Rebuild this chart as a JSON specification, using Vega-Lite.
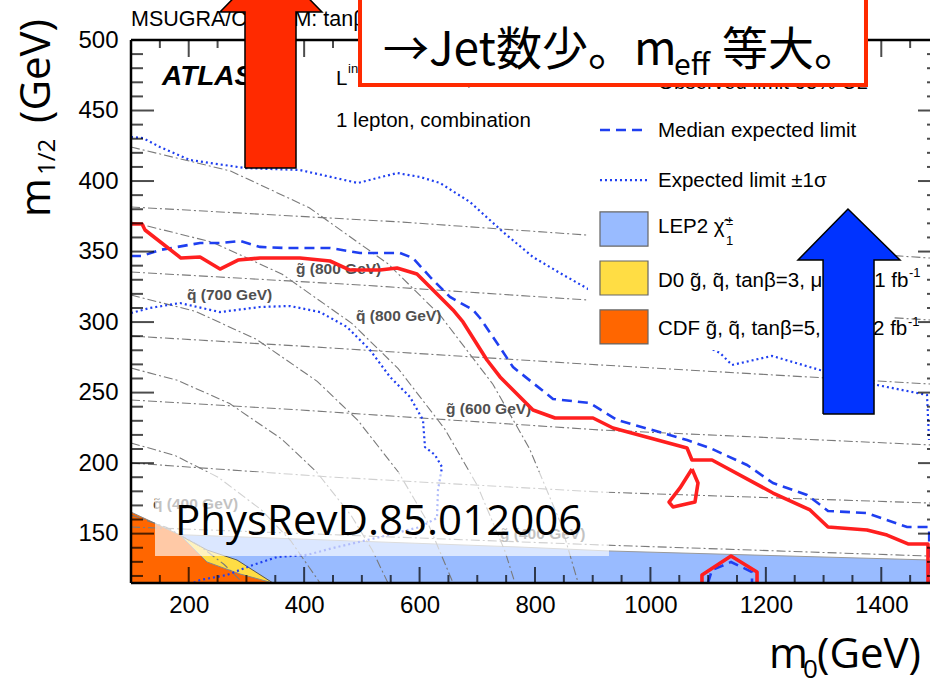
{
  "$schema": "https://vega.github.io/schema/vega-lite/v6.json",
  "width": 799,
  "height": 543,
  "autosize": {"type": "none"},
  "padding": {"left": 131, "top": 40, "right": 0, "bottom": 100},
  "background": "white",
  "config": {
    "view": {"stroke": null},
    "axis": {"ticks": false, "domain": false, "grid": false, "labelFont": "Liberation Sans", "labelFontSize": 24, "labelColor": "#000000", "labelOverlap": false, "labelFlush": false}
  },
  "datasets": {
    "lep": [{"m0": 100, "m12": 150.5}, {"m0": 774.0, "m12": 140.5}, {"m0": 928.2, "m12": 137.7}, {"m0": 1484.4, "m12": 131.3}],
    "cdf": [{"m0": 100, "m12": 165.3}, {"m0": 184.9, "m12": 149.0}, {"m0": 231.7, "m12": 129.9}, {"m0": 288.9, "m12": 121.4}, {"m0": 346.0, "m12": 115}],
    "d0": [{"m0": 190.1, "m12": 147.6, "lo": 147.6}, {"m0": 231.7, "m12": 138.4, "lo": 129.9}, {"m0": 283.7, "m12": 131.3, "lo": 121.5}, {"m0": 346.0, "m12": 115, "lo": 115}],
    "iso": [
      {"name": "g900", "m0": 100, "m12": 381.6}, {"name": "g900", "m0": 566.1, "m12": 371.0}, {"name": "g900", "m0": 890.2, "m12": 361.7}, {"name": "g900", "m0": 1484.4, "m12": 345.4},
      {"name": "g800", "m0": 100, "m12": 335.5}, {"name": "g800", "m0": 496.8, "m12": 326.3}, {"name": "g800", "m0": 890.2, "m12": 315.7}, {"name": "g800", "m0": 1484.4, "m12": 301.5},
      {"name": "g700", "m0": 100, "m12": 290.1}, {"name": "g700", "m0": 392.8, "m12": 283.0}, {"name": "g700", "m0": 912.6, "m12": 269.6}, {"name": "g700", "m0": 1484.4, "m12": 256.1},
      {"name": "g600", "m0": 100, "m12": 244.8}, {"name": "g600", "m0": 392.8, "m12": 237.7}, {"name": "g600", "m0": 912.6, "m12": 223.5}, {"name": "g600", "m0": 1484.4, "m12": 212.9},
      {"name": "g500", "m0": 100, "m12": 200.1}, {"name": "g500", "m0": 444.8, "m12": 190.2}, {"name": "g500", "m0": 912.6, "m12": 179.5}, {"name": "g500", "m0": 1484.4, "m12": 171.7},
      {"name": "g400", "m0": 100, "m12": 154.7}, {"name": "g400", "m0": 912.6, "m12": 142.0}, {"name": "g400", "m0": 1484.4, "m12": 134.1},
      {"name": "q800", "m0": 100, "m12": 424.1}, {"name": "q800", "m0": 272.6, "m12": 407.1}, {"name": "q800", "m0": 408.8, "m12": 381.1}, {"name": "q800", "m0": 545.1, "m12": 341.4}, {"name": "q800", "m0": 635.9, "m12": 304.7}, {"name": "q800", "m0": 726.7, "m12": 256.1}, {"name": "q800", "m0": 790.3, "m12": 210.4}, {"name": "q800", "m0": 844.9, "m12": 156.9}, {"name": "q800", "m0": 874.8, "m12": 115},
      {"name": "q700", "m0": 100, "m12": 371.0}, {"name": "q700", "m0": 241.4, "m12": 356.6}, {"name": "q700", "m0": 362.0, "m12": 333.9}, {"name": "q700", "m0": 482.6, "m12": 299.1}, {"name": "q700", "m0": 563.0, "m12": 267.0}, {"name": "q700", "m0": 643.5, "m12": 224.3}, {"name": "q700", "m0": 699.8, "m12": 184.4}, {"name": "q700", "m0": 748.0, "m12": 137.5}, {"name": "q700", "m0": 765.3, "m12": 115},
      {"name": "q600", "m0": 100, "m12": 319.2}, {"name": "q600", "m0": 211.4, "m12": 307.6}, {"name": "q600", "m0": 316.9, "m12": 287.9}, {"name": "q600", "m0": 422.6, "m12": 258.0}, {"name": "q600", "m0": 493.1, "m12": 230.3}, {"name": "q600", "m0": 563.5, "m12": 193.5}, {"name": "q600", "m0": 612.9, "m12": 159.0}, {"name": "q600", "m0": 658.1, "m12": 115},
      {"name": "q500", "m0": 100, "m12": 267.4}, {"name": "q500", "m0": 180.7, "m12": 258.7}, {"name": "q500", "m0": 271.0, "m12": 242.2}, {"name": "q500", "m0": 361.3, "m12": 217.0}, {"name": "q500", "m0": 421.6, "m12": 193.7}, {"name": "q500", "m0": 481.7, "m12": 162.7}, {"name": "q500", "m0": 517.9, "m12": 138.4}, {"name": "q500", "m0": 545.3, "m12": 115},
      {"name": "q400", "m0": 100, "m12": 214.3}, {"name": "q400", "m0": 175.7, "m12": 205.5}, {"name": "q400", "m0": 251.1, "m12": 190.0}, {"name": "q400", "m0": 326.3, "m12": 166.7}, {"name": "q400", "m0": 376.5, "m12": 145.1}, {"name": "q400", "m0": 427.5, "m12": 115},
      {"name": "q300", "m0": 100, "m12": 163.2}, {"name": "q300", "m0": 161.0, "m12": 154.5}, {"name": "q300", "m0": 221.3, "m12": 140.7}, {"name": "q300", "m0": 261.5, "m12": 128.1}, {"name": "q300", "m0": 294.2, "m12": 115}
    ],
    "isoLabels": [
      {"m0": 385.9, "m12": 334.0, "t": "g\u0303 (800 GeV)"},
      {"m0": 197.0, "m12": 315.7, "t": "q\u0303 (700 GeV)"},
      {"m0": 489.9, "m12": 300.8, "t": "q\u0303 (800 GeV)"},
      {"m0": 645.8, "m12": 234.8, "t": "g\u0303 (600 GeV)"},
      {"m0": 138.1, "m12": 167.5, "t": "q\u0303 (400 GeV)"},
      {"m0": 739.4, "m12": 146.2, "t": "g\u0303 (400 GeV)"}
    ],
    "sig": [
      {"part": "up", "m0": 100, "m12": 431.2}, {"part": "up", "m0": 120.8, "m12": 430.5}, {"part": "up", "m0": 150.2, "m12": 424.1}, {"part": "up", "m0": 202.2, "m12": 414.9}, {"part": "up", "m0": 297.5, "m12": 409.2}, {"part": "up", "m0": 392.8, "m12": 407.8}, {"part": "up", "m0": 493.3, "m12": 398.6}, {"part": "up", "m0": 560.9, "m12": 405.7}, {"part": "up", "m0": 600.7, "m12": 402.9}, {"part": "up", "m0": 635.4, "m12": 398.6}, {"part": "up", "m0": 687.4, "m12": 385.1}, {"part": "up", "m0": 744.6, "m12": 363.9}, {"part": "up", "m0": 796.5, "m12": 346.1}, {"part": "up", "m0": 843.3, "m12": 334.8}, {"part": "up", "m0": 895.3, "m12": 322.7}, {"part": "up", "m0": 1120.5, "m12": 278.1}, {"part": "up", "m0": 1141.4, "m12": 269.6}, {"part": "up", "m0": 1210.7, "m12": 276.0}, {"part": "up", "m0": 1293.8, "m12": 266.0}, {"part": "up", "m0": 1392.6, "m12": 255.4}, {"part": "up", "m0": 1479.2, "m12": 248.3}, {"part": "up", "m0": 1482.7, "m12": 216.4},
      {"part": "dn", "m0": 100, "m12": 306.4}, {"part": "dn", "m0": 132.9, "m12": 310.0}, {"part": "dn", "m0": 184.9, "m12": 313.5}, {"part": "dn", "m0": 254.2, "m12": 307.1}, {"part": "dn", "m0": 323.5, "m12": 310.7}, {"part": "dn", "m0": 375.5, "m12": 311.4}, {"part": "dn", "m0": 427.5, "m12": 307.1}, {"part": "dn", "m0": 474.3, "m12": 296.5}, {"part": "dn", "m0": 514.1, "m12": 280.2}, {"part": "dn", "m0": 548.8, "m12": 261.1}, {"part": "dn", "m0": 583.4, "m12": 246.9}, {"part": "dn", "m0": 605.9, "m12": 230.6}, {"part": "dn", "m0": 609.4, "m12": 211.4}, {"part": "dn", "m0": 626.7, "m12": 205.8}, {"part": "dn", "m0": 638.9, "m12": 197.2}, {"part": "dn", "m0": 631.9, "m12": 181.0}, {"part": "dn", "m0": 630.2, "m12": 161.1}, {"part": "dn", "m0": 600.7, "m12": 154.7}, {"part": "dn", "m0": 531.4, "m12": 147.6}, {"part": "dn", "m0": 450.0, "m12": 139.8}, {"part": "dn", "m0": 404.9, "m12": 134.9}, {"part": "dn", "m0": 353.0, "m12": 133.4}, {"part": "dn", "m0": 311.4, "m12": 127.8}, {"part": "dn", "m0": 266.3, "m12": 120.7}, {"part": "dn", "m0": 219.6, "m12": 117.1}, {"part": "dn", "m0": 207.4, "m12": 115}
    ],
    "med": [
      {"part": "main", "m0": 100, "m12": 346.9}, {"part": "main", "m0": 119.1, "m12": 346.9}, {"part": "main", "m0": 150.2, "m12": 351.1}, {"part": "main", "m0": 219.6, "m12": 356.1}, {"part": "main", "m0": 254.2, "m12": 356.1}, {"part": "main", "m0": 288.9, "m12": 357.5}, {"part": "main", "m0": 323.5, "m12": 353.3}, {"part": "main", "m0": 370.3, "m12": 352.5}, {"part": "main", "m0": 444.8, "m12": 352.5}, {"part": "main", "m0": 496.8, "m12": 349.0}, {"part": "main", "m0": 566.1, "m12": 349.0}, {"part": "main", "m0": 588.6, "m12": 345.4}, {"part": "main", "m0": 618.1, "m12": 332.0}, {"part": "main", "m0": 652.7, "m12": 317.8}, {"part": "main", "m0": 692.6, "m12": 308.6}, {"part": "main", "m0": 704.7, "m12": 302.9}, {"part": "main", "m0": 734.2, "m12": 285.2}, {"part": "main", "m0": 761.9, "m12": 268.1}, {"part": "main", "m0": 831.2, "m12": 245.5}, {"part": "main", "m0": 895.3, "m12": 242.6}, {"part": "main", "m0": 900.5, "m12": 241.2}, {"part": "main", "m0": 942.1, "m12": 230.6}, {"part": "main", "m0": 1063.4, "m12": 216.4}, {"part": "main", "m0": 1103.2, "m12": 210.7}, {"part": "main", "m0": 1167.3, "m12": 198.7}, {"part": "main", "m0": 1212.4, "m12": 185.9}, {"part": "main", "m0": 1271.3, "m12": 177.4}, {"part": "main", "m0": 1299.1, "m12": 168.9}, {"part": "main", "m0": 1307.7, "m12": 166.1}, {"part": "main", "m0": 1375.2, "m12": 164.6}, {"part": "main", "m0": 1444.6, "m12": 154.7}, {"part": "main", "m0": 1483.0, "m12": 154.7}, {"part": "main", "m0": 1483.0, "m12": 115},
      {"part": "bump", "m0": 1099.7, "m12": 115}, {"part": "bump", "m0": 1106.7, "m12": 124.2}, {"part": "bump", "m0": 1139.6, "m12": 129.9}, {"part": "bump", "m0": 1176.0, "m12": 122.8}, {"part": "bump", "m0": 1176.0, "m12": 115}
    ],
    "obs": [
      {"part": "main", "m0": 100, "m12": 369.5}, {"part": "main", "m0": 119.1, "m12": 369.5}, {"part": "main", "m0": 124.3, "m12": 365.3}, {"part": "main", "m0": 186.6, "m12": 345.4}, {"part": "main", "m0": 219.6, "m12": 346.1}, {"part": "main", "m0": 254.2, "m12": 337.6}, {"part": "main", "m0": 285.4, "m12": 344.0}, {"part": "main", "m0": 323.5, "m12": 345.4}, {"part": "main", "m0": 392.8, "m12": 345.4}, {"part": "main", "m0": 444.8, "m12": 343.3}, {"part": "main", "m0": 479.4, "m12": 336.9}, {"part": "main", "m0": 531.4, "m12": 336.9}, {"part": "main", "m0": 560.9, "m12": 338.3}, {"part": "main", "m0": 595.5, "m12": 334.1}, {"part": "main", "m0": 618.1, "m12": 324.9}, {"part": "main", "m0": 657.9, "m12": 308.6}, {"part": "main", "m0": 675.2, "m12": 300.1}, {"part": "main", "m0": 716.8, "m12": 273.1}, {"part": "main", "m0": 739.4, "m12": 261.1}, {"part": "main", "m0": 774.0, "m12": 246.9}, {"part": "main", "m0": 796.5, "m12": 237.7}, {"part": "main", "m0": 834.7, "m12": 232.0}, {"part": "main", "m0": 900.5, "m12": 232.0}, {"part": "main", "m0": 935.1, "m12": 224.9}, {"part": "main", "m0": 1063.4, "m12": 210.7}, {"part": "main", "m0": 1072.0, "m12": 202.2}, {"part": "main", "m0": 1106.7, "m12": 202.2}, {"part": "main", "m0": 1212.4, "m12": 178.8}, {"part": "main", "m0": 1276.5, "m12": 166.8}, {"part": "main", "m0": 1307.7, "m12": 154.7}, {"part": "main", "m0": 1375.2, "m12": 152.6}, {"part": "main", "m0": 1409.9, "m12": 149.0}, {"part": "main", "m0": 1446.3, "m12": 142.7}, {"part": "main", "m0": 1480.9, "m12": 142.7}, {"part": "main", "m0": 1480.9, "m12": 115},
      {"part": "island", "m0": 1072.0, "m12": 195.8}, {"part": "island", "m0": 1082.4, "m12": 185.9}, {"part": "island", "m0": 1077.2, "m12": 172.4}, {"part": "island", "m0": 1039.1, "m12": 168.9}, {"part": "island", "m0": 1032.2, "m12": 172.4}, {"part": "island", "m0": 1051.2, "m12": 182.4}, {"part": "island", "m0": 1072.0, "m12": 195.8},
      {"part": "bump", "m0": 1089.3, "m12": 115}, {"part": "bump", "m0": 1089.3, "m12": 120.7}, {"part": "bump", "m0": 1139.6, "m12": 134.1}, {"part": "bump", "m0": 1184.7, "m12": 122.8}, {"part": "bump", "m0": 1184.7, "m12": 115}
    ],
    "veil": [{"m0": 141.6, "m0b": 928.2, "m12": 193.7, "m12b": 134.1}],
    "keyBox": [{"m0": 891.8, "m0b": 1420.3, "m12": 487.2, "m12b": 280.2}],
    "keyObs": [{"m0": 912.6, "m12": 470.9}, {"m0": 995.8, "m12": 470.9}],
    "keyMed": [{"m0": 912.6, "m12": 436.2}, {"m0": 995.8, "m12": 436.2}],
    "keySig": [{"m0": 912.6, "m12": 400.7}, {"m0": 995.8, "m12": 400.7}],
    "swatches": [
      {"m0": 912.6, "m0b": 995.8, "m12": 378.1, "m12b": 353.9, "k": "LEP2"},
      {"m0": 912.6, "m0b": 995.8, "m12": 343.3, "m12b": 319.2, "k": "D0"},
      {"m0": 912.6, "m0b": 995.8, "m12": 308.6, "m12b": 284.5, "k": "CDF"}
    ],
    "txt20": [
      {"m0": 1013.1, "m12": 465.3, "t": "Observed limit 95% CL"},
      {"m0": 1013.1, "m12": 431.2, "t": "Median expected limit"},
      {"m0": 1013.1, "m12": 395.8, "t": "Expected limit ±1σ"},
      {"m0": 1013.1, "m12": 363.2, "t": "LEP2 χ\u0303"},
      {"m0": 1013.1, "m12": 324.9, "t": "D0 g\u0303, q\u0303, tanβ=3, μ<0, 2.1 fb"},
      {"m0": 1013.1, "m12": 290.8, "t": "CDF g\u0303, q\u0303, tanβ=5, μ<0, 2 fb"},
      {"m0": 455.2, "m12": 438.3, "t": "1 lepton, combination"},
      {"m0": 455.2, "m12": 468.1, "t": "L"},
      {"m0": 517.6, "m12": 468.1, "t": "= 1.04 fb⁻¹, √s = 7 TeV"}
    ],
    "txt13": [
      {"m0": 1130.9, "m12": 368.8, "t": "±"},
      {"m0": 1130.9, "m12": 354.6, "t": "1"},
      {"m0": 1448.0, "m12": 332.0, "t": "-1"},
      {"m0": 1446.3, "m12": 297.2, "t": "-1"},
      {"m0": 476.0, "m12": 476.6, "t": "int"}
    ],
    "topLine": [{"m0": 100, "m12": 509.9, "t": "MSUGRA/CMSSM: tanβ = 10, A₀ = 0, μ > 0"}],
    "atlas": [{"m0": 153.7, "m12": 468.1, "t": "ATLAS"}],
    "ref": [{"m0": 176.2, "m12": 149.0, "t": "PhysRevD.85.012006"}],
    "xMaj": [{"m0": 200}, {"m0": 400}, {"m0": 600}, {"m0": 800}, {"m0": 1000}, {"m0": 1200}, {"m0": 1400}],
    "xMin": [{"m0": 150}, {"m0": 250}, {"m0": 300}, {"m0": 350}, {"m0": 450}, {"m0": 500}, {"m0": 550}, {"m0": 650}, {"m0": 700}, {"m0": 750}, {"m0": 850}, {"m0": 900}, {"m0": 950}, {"m0": 1050}, {"m0": 1100}, {"m0": 1150}, {"m0": 1250}, {"m0": 1300}, {"m0": 1350}, {"m0": 1450}],
    "yMaj": [{"m12": 150}, {"m12": 200}, {"m12": 250}, {"m12": 300}, {"m12": 350}, {"m12": 400}, {"m12": 450}],
    "yMin": [{"m12": 120}, {"m12": 130}, {"m12": 140}, {"m12": 160}, {"m12": 170}, {"m12": 180}, {"m12": 190}, {"m12": 210}, {"m12": 220}, {"m12": 230}, {"m12": 240}, {"m12": 260}, {"m12": 270}, {"m12": 280}, {"m12": 290}, {"m12": 310}, {"m12": 320}, {"m12": 330}, {"m12": 340}, {"m12": 360}, {"m12": 370}, {"m12": 380}, {"m12": 390}, {"m12": 410}, {"m12": 420}, {"m12": 430}, {"m12": 440}, {"m12": 460}, {"m12": 470}, {"m12": 480}, {"m12": 490}],
    "noteBox": [{"m0": 496.8, "m0b": 1373.5, "m12": 468.1, "m12b": 546.0}],
    "noteMain": [{"m0": 536.6, "m12": 482.3, "t": "→Jet数少。m"}],
    "noteSub": [{"m0": 1040.9, "m12": 475.2, "t": "eff"}],
    "noteEnd": [{"m0": 1124.0, "m12": 482.3, "t": "等大。"}],
    "redArrow": [{"m0": 297.5, "m12": 409.2}, {"m0": 297.5, "m12": 519.9}, {"m0": 254.2, "m12": 519.9}, {"m0": 342.6, "m12": 556.7}, {"m0": 430.9, "m12": 519.9}, {"m0": 385.9, "m12": 519.9}, {"m0": 385.9, "m12": 409.2}, {"m0": 297.5, "m12": 409.2}],
    "blueArrow": [{"m0": 1299.1, "m12": 234.8}, {"m0": 1299.1, "m12": 344.0}, {"m0": 1255.7, "m12": 344.0}, {"m0": 1342.3, "m12": 380.2}, {"m0": 1432.4, "m12": 344.0}, {"m0": 1387.4, "m12": 344.0}, {"m0": 1387.4, "m12": 234.8}, {"m0": 1299.1, "m12": 234.8}],
    "yTitle": [{"m0": -40.3, "m12": 374.5, "t": "m"}, {"m0": -40.3, "m12": 441.2, "t": "(GeV)"}],
    "yTitleSub": [{"m0": -31.7, "m12": 404.3, "t": "1/2"}],
    "xTitle": [{"m0": 1205.4, "m12": 54.7, "t": "m"}, {"m0": 1288.6, "m12": 54.7, "t": "(GeV)"}],
    "xTitleSub": [{"m0": 1264.4, "m12": 47.5, "t": "0"}]
  },
  "layer": [
    {
      "encoding": {
        "x": {"field": "m0", "type": "quantitative", "scale": {"domain": [100, 1484.4], "nice": false, "zero": false},
              "axis": {"values": [200, 400, 600, 800, 1000, 1200, 1400], "format": "d", "labelPadding": 10, "title": null}},
        "y": {"field": "m12", "type": "quantitative", "scale": {"domain": [115, 500], "nice": false, "zero": false},
              "axis": {"values": [150, 200, 250, 300, 350, 400, 450, 500], "format": "d", "labelPadding": 13, "title": null}}
      },
      "layer": [
        {"data": {"name": "lep"}, "mark": {"type": "area", "color": "#99bbff"}, "encoding": {"y2": {"datum": 115}}},
        {"data": {"name": "lep"}, "mark": {"type": "line", "color": "#9a9a9a", "strokeWidth": 1}},
        {"data": {"name": "d0"}, "mark": {"type": "area", "color": "#ffdd44"}, "encoding": {"y2": {"field": "lo"}}},
        {"data": {"name": "d0"}, "mark": {"type": "line", "color": "#555555", "strokeWidth": 1}},
        {"data": {"name": "cdf"}, "mark": {"type": "area", "color": "#ff6600"}, "encoding": {"y2": {"datum": 115}}},
        {"data": {"name": "cdf"}, "mark": {"type": "line", "color": "#888888", "strokeWidth": 1}},
        {"data": {"name": "iso"}, "mark": {"type": "line", "color": "#7a7a7a", "strokeWidth": 1.1, "strokeDash": [9, 3, 2, 3]},
         "encoding": {"detail": {"field": "name"}, "order": {"value": null}}},
        {"data": {"name": "isoLabels"}, "mark": {"type": "text", "font": "Liberation Sans", "fontWeight": "bold", "fontSize": 15.5, "color": "#505050", "align": "left", "baseline": "alphabetic"},
         "encoding": {"text": {"field": "t"}}},
        {"data": {"name": "sig"}, "mark": {"type": "line", "color": "#1f3ff0", "strokeWidth": 2.2, "strokeDash": [2, 3]},
         "encoding": {"detail": {"field": "part"}, "order": {"value": null}}},
        {"data": {"name": "med"}, "mark": {"type": "line", "color": "#1f3ff0", "strokeWidth": 2.6, "strokeDash": [10, 6]},
         "encoding": {"detail": {"field": "part"}, "order": {"value": null}}},
        {"data": {"name": "obs"}, "mark": {"type": "line", "color": "#ff1f1f", "strokeWidth": 3.6, "strokeJoin": "round"},
         "encoding": {"detail": {"field": "part"}, "order": {"value": null}}},
        {"data": {"name": "veil"}, "mark": {"type": "rect", "color": "white", "opacity": 0.65},
         "encoding": {"x2": {"field": "m0b"}, "y2": {"field": "m12b"}}},
        {"data": {"name": "ref"}, "mark": {"type": "text", "font": "Open Sans", "fontSize": 42, "color": "#000000", "align": "left", "baseline": "alphabetic"},
         "encoding": {"text": {"field": "t"}}},
        {"data": {"name": "keyBox"}, "mark": {"type": "rect", "color": "white"},
         "encoding": {"x2": {"field": "m0b"}, "y2": {"field": "m12b"}}},
        {"data": {"name": "keyObs"}, "mark": {"type": "line", "color": "#ff1f1f", "strokeWidth": 3.6}},
        {"data": {"name": "keyMed"}, "mark": {"type": "line", "color": "#1f3ff0", "strokeWidth": 2.6, "strokeDash": [10, 6]}},
        {"data": {"name": "keySig"}, "mark": {"type": "line", "color": "#1f3ff0", "strokeWidth": 2.2, "strokeDash": [2, 3]}},
        {"data": {"name": "swatches"}, "mark": {"type": "rect", "stroke": "#666666", "strokeWidth": 1.2},
         "encoding": {"x2": {"field": "m0b"}, "y2": {"field": "m12b"},
                      "color": {"field": "k", "type": "nominal", "scale": {"domain": ["LEP2", "D0", "CDF"], "range": ["#99bbff", "#ffdd44", "#ff6600"]}, "legend": null}}},
        {"data": {"name": "txt20"}, "mark": {"type": "text", "font": "Liberation Sans", "fontSize": 20.5, "color": "#000000", "align": "left", "baseline": "alphabetic"},
         "encoding": {"text": {"field": "t"}}},
        {"data": {"name": "txt13"}, "mark": {"type": "text", "font": "Liberation Sans", "fontSize": 13, "color": "#000000", "align": "left", "baseline": "alphabetic"},
         "encoding": {"text": {"field": "t"}}},
        {"data": {"name": "topLine"}, "mark": {"type": "text", "font": "Liberation Sans", "fontSize": 21.5, "color": "#000000", "align": "left", "baseline": "alphabetic"},
         "encoding": {"text": {"field": "t"}}},
        {"data": {"name": "atlas"}, "mark": {"type": "text", "font": "Liberation Sans", "fontSize": 28, "fontWeight": "bold", "fontStyle": "italic", "color": "#000000", "align": "left", "baseline": "alphabetic"},
         "encoding": {"text": {"field": "t"}}}
      ]
    },
    {"data": {"values": [{}]}, "mark": {"type": "rule", "color": "#000000", "strokeWidth": 2.5},
     "encoding": {"x": {"datum": 100, "type": "quantitative"}, "x2": {"datum": 1484.4}, "y": {"datum": 115, "type": "quantitative"}}},
    {"data": {"values": [{}]}, "mark": {"type": "rule", "color": "#000000", "strokeWidth": 2.5},
     "encoding": {"x": {"datum": 100, "type": "quantitative"}, "x2": {"datum": 1484.4}, "y": {"datum": 500, "type": "quantitative"}}},
    {"data": {"values": [{}]}, "mark": {"type": "rule", "color": "#000000", "strokeWidth": 2.5},
     "encoding": {"x": {"datum": 100, "type": "quantitative"}, "y": {"datum": 115, "type": "quantitative"}, "y2": {"datum": 500}}},
    {"data": {"name": "xMaj"}, "mark": {"type": "tick", "orient": "vertical", "size": 16, "thickness": 2, "color": "#000000", "yOffset": -8},
     "encoding": {"x": {"field": "m0", "type": "quantitative", "title": null}, "y": {"datum": 115, "type": "quantitative"}}},
    {"data": {"name": "xMin"}, "mark": {"type": "tick", "orient": "vertical", "size": 8, "thickness": 2, "color": "#000000", "yOffset": -4},
     "encoding": {"x": {"field": "m0", "type": "quantitative", "title": null}, "y": {"datum": 115, "type": "quantitative"}}},
    {"data": {"name": "xMaj"}, "mark": {"type": "tick", "orient": "vertical", "size": 17, "thickness": 2, "color": "#000000", "yOffset": 8.5},
     "encoding": {"x": {"field": "m0", "type": "quantitative", "title": null}, "y": {"datum": 500, "type": "quantitative"}}},
    {"data": {"name": "xMin"}, "mark": {"type": "tick", "orient": "vertical", "size": 8, "thickness": 2, "color": "#000000", "yOffset": 4},
     "encoding": {"x": {"field": "m0", "type": "quantitative", "title": null}, "y": {"datum": 500, "type": "quantitative"}}},
    {"data": {"name": "yMaj"}, "mark": {"type": "tick", "orient": "horizontal", "size": 23, "thickness": 2, "color": "#000000", "xOffset": 11.5},
     "encoding": {"y": {"field": "m12", "type": "quantitative", "title": null}, "x": {"datum": 100, "type": "quantitative"}}},
    {"data": {"name": "yMin"}, "mark": {"type": "tick", "orient": "horizontal", "size": 12, "thickness": 2, "color": "#000000", "xOffset": 6},
     "encoding": {"y": {"field": "m12", "type": "quantitative", "title": null}, "x": {"datum": 100, "type": "quantitative"}}},
    {"data": {"name": "yMaj"}, "mark": {"type": "tick", "orient": "horizontal", "size": 12, "thickness": 2, "color": "#000000", "xOffset": -6},
     "encoding": {"y": {"field": "m12", "type": "quantitative", "title": null}, "x": {"datum": 1484.4, "type": "quantitative"}}},
    {"data": {"name": "yMin"}, "mark": {"type": "tick", "orient": "horizontal", "size": 3, "thickness": 2, "color": "#000000", "xOffset": -1.5},
     "encoding": {"y": {"field": "m12", "type": "quantitative", "title": null}, "x": {"datum": 1484.4, "type": "quantitative"}}},
    {
      "encoding": {
        "x": {"field": "m0", "type": "quantitative", "title": null},
        "y": {"field": "m12", "type": "quantitative", "title": null}
      },
      "layer": [
        {"data": {"name": "noteBox"}, "mark": {"type": "rect", "fill": "white", "stroke": "#ff2a00", "strokeWidth": 4},
         "encoding": {"x2": {"field": "m0b"}, "y2": {"field": "m12b"}}},
        {"data": {"name": "noteMain"}, "mark": {"type": "text", "font": "Noto Sans CJK JP", "fontSize": 46, "color": "#000000", "align": "left", "baseline": "alphabetic"},
         "encoding": {"text": {"field": "t"}}},
        {"data": {"name": "noteSub"}, "mark": {"type": "text", "font": "Noto Sans CJK JP", "fontSize": 30, "color": "#000000", "align": "left", "baseline": "alphabetic"},
         "encoding": {"text": {"field": "t"}}},
        {"data": {"name": "noteEnd"}, "mark": {"type": "text", "font": "Noto Sans CJK JP", "fontSize": 46, "color": "#000000", "align": "left", "baseline": "alphabetic"},
         "encoding": {"text": {"field": "t"}}},
        {"data": {"name": "redArrow"}, "mark": {"type": "line", "fill": "#ff2a00", "stroke": "#000000", "strokeWidth": 1.5, "strokeJoin": "miter"},
         "encoding": {"order": {"value": null}}},
        {"data": {"name": "blueArrow"}, "mark": {"type": "line", "fill": "#0033ff", "stroke": "#000000", "strokeWidth": 1.5, "strokeJoin": "miter"},
         "encoding": {"order": {"value": null}}},
        {"data": {"name": "yTitle"}, "mark": {"type": "text", "font": "Open Sans", "fontSize": 42, "angle": 270, "color": "#000000", "align": "left", "baseline": "alphabetic"},
         "encoding": {"text": {"field": "t"}}},
        {"data": {"name": "yTitleSub"}, "mark": {"type": "text", "font": "Open Sans", "fontSize": 24, "angle": 270, "color": "#000000", "align": "left", "baseline": "alphabetic"},
         "encoding": {"text": {"field": "t"}}},
        {"data": {"name": "xTitle"}, "mark": {"type": "text", "font": "Open Sans", "fontSize": 42, "color": "#000000", "align": "left", "baseline": "alphabetic"},
         "encoding": {"text": {"field": "t"}}},
        {"data": {"name": "xTitleSub"}, "mark": {"type": "text", "font": "Open Sans", "fontSize": 26, "color": "#000000", "align": "left", "baseline": "alphabetic"},
         "encoding": {"text": {"field": "t"}}}
      ]
    }
  ]
}
